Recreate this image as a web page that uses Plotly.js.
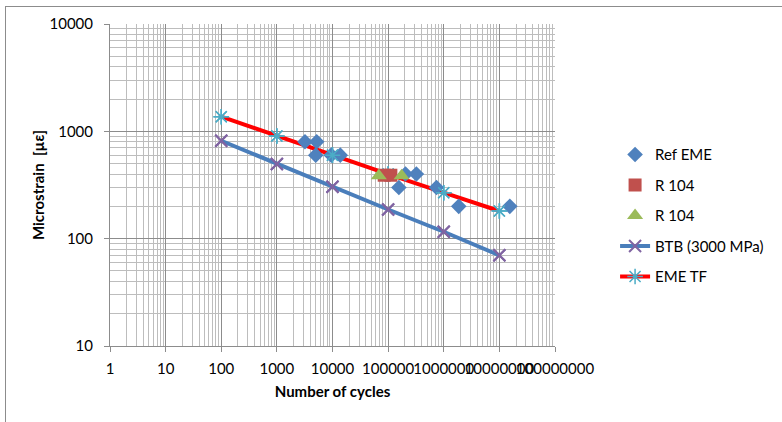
<!DOCTYPE html>
<html>
<head>
<meta charset="utf-8">
<script src="https://cdn.plot.ly/plotly-3.0.1.min.js"></script>
<style>
html,body{margin:0;padding:0;background:#fff;}
#frame{position:absolute;left:5px;top:6px;width:800px;height:430px;border-left:1.5px solid #8c8c8c;border-top:1.5px solid #8c8c8c;pointer-events:none;}
#chart{position:absolute;left:0;top:0;width:782px;height:422px;}
</style>
</head>
<body>
<div id="chart"></div>
<div id="frame"></div>
<script>
// Ref EME
const refN = [3200, 5200, 5000, 9500, 13800, 205000, 322000, 156000, 740000, 1860000, 15400000];
const refS = [800, 800, 600, 600, 600, 400, 400, 300, 300, 200, 200];
// R 104 (squares)
const r104aN = [85000, 112000];
const r104aS = [390, 390];
// R 104 (triangles)
const r104bN = [68000, 175000];
const r104bS = [385, 385];
// BTB (3000 MPa)
const btbN = [100, 1000, 10000, 100000, 1000000, 10000000];
const btbS = [817, 496, 305, 187, 116, 70];
// EME TF
const emeN = [100, 1000, 10000, 100000, 1000000, 10000000];
const emeS = [1368, 904, 600, 400, 268, 181];

const xTickVals = [1, 10, 100, 1000, 10000, 100000, 1000000, 10000000, 100000000];
const xTickText = ["1", "10", "100", "1000", "10000", "100000", "1000000", "10000000", "100000000"];
const yTickVals = [10, 100, 1000, 10000];
const yTickText = ["10", "100", "1000", "10000"];

const FONT = "Lato, 'Liberation Sans', sans-serif";
const FS = 15;

const btbMarker = {symbol: "x-thin-open", size: 12, color: "#8064a2", line: {color: "#8064a2", width: 2}};
const emeMarker = {symbol: "asterisk-open", size: 13, color: "#4bacc6", line: {color: "#4bacc6", width: 1.5}};

const traces = [
  // lines (with legend entries) drawn first
  {x: btbN, y: btbS, name: "BTB (3000 MPa)", mode: "lines+markers", type: "scatter", legendgroup: "d", legendrank: 4,
   line: {color: "#4a7ebb", width: 4}, marker: btbMarker},
  {x: emeN, y: emeS, name: "EME TF", mode: "lines+markers", type: "scatter", legendgroup: "e", legendrank: 5,
   line: {color: "#ff0000", width: 4}, marker: emeMarker},
  // markers on top
  {x: refN, y: refS, name: "Ref EME", mode: "markers", type: "scatter", legendgroup: "a", legendrank: 1,
   marker: {symbol: "diamond", size: 12, color: "#4f81bd"}},
  {x: btbN, y: btbS, name: "BTB (3000 MPa)", mode: "markers", type: "scatter", legendgroup: "d", showlegend: false,
   marker: btbMarker},
  {x: emeN, y: emeS, name: "EME TF", mode: "markers", type: "scatter", legendgroup: "e", showlegend: false,
   marker: emeMarker},
  {x: r104aN, y: r104aS, name: "R 104", mode: "markers", type: "scatter", legendgroup: "b", legendrank: 2,
   marker: {symbol: "square", size: 13, color: "#c0504d"}},
  {x: r104bN, y: r104bS, name: "R 104", mode: "markers", type: "scatter", legendgroup: "c", legendrank: 3,
   marker: {symbol: "triangle-up", size: 14, color: "#9bbb59"}}
];

const layout = {
  width: 782, height: 422,
  margin: {l: 110, r: 227, t: 24, b: 76},
  paper_bgcolor: "#fff", plot_bgcolor: "#fff",
  font: {family: FONT, size: FS, color: "#000"},
  showlegend: true,
  legend: {x: 1.135, y: 0.645, xanchor: "left", yanchor: "top", traceorder: "grouped",
           tracegroupgap: 8, font: {family: FONT, size: FS, color: "#000"}, bgcolor: "rgba(0,0,0,0)"},
  xaxis: {
    type: "log", range: [0, 8], autorange: false,
    tickvals: xTickVals, ticktext: xTickText, tickangle: 0,
    ticks: "outside", ticklen: 5, tickcolor: "#8c8c8c", ticklabelstandoff: 4,
    showline: true, linecolor: "#8c8c8c", linewidth: 1,
    showgrid: true, gridcolor: "#8c8c8c", gridwidth: 1,
    minor: {dtick: "D1", showgrid: true, gridcolor: "#bdbdbd", gridwidth: 1, ticks: ""},
    zeroline: false, mirror: false,
    tickfont: {family: FONT, size: FS},
    title: {text: "<b>Number of cycles</b>", font: {family: FONT, size: FS}, standoff: 10}
  },
  yaxis: {
    type: "log", range: [1, 4], autorange: false,
    tickvals: yTickVals, ticktext: yTickText,
    ticks: "outside", ticklen: 5, tickcolor: "#8c8c8c", ticklabelstandoff: 8,
    showline: true, linecolor: "#8c8c8c", linewidth: 1,
    showgrid: true, gridcolor: "#8c8c8c", gridwidth: 1,
    minor: {dtick: "D1", showgrid: true, gridcolor: "#bdbdbd", gridwidth: 1, ticks: ""},
    zeroline: false,
    tickfont: {family: FONT, size: FS},
    title: {text: "<b>Microstrain  [µε]</b>", font: {family: FONT, size: FS}, standoff: 1}
  }
};

Plotly.newPlot("chart", traces, layout, {displayModeBar: false, staticPlot: true});
</script>
</body>
</html>
